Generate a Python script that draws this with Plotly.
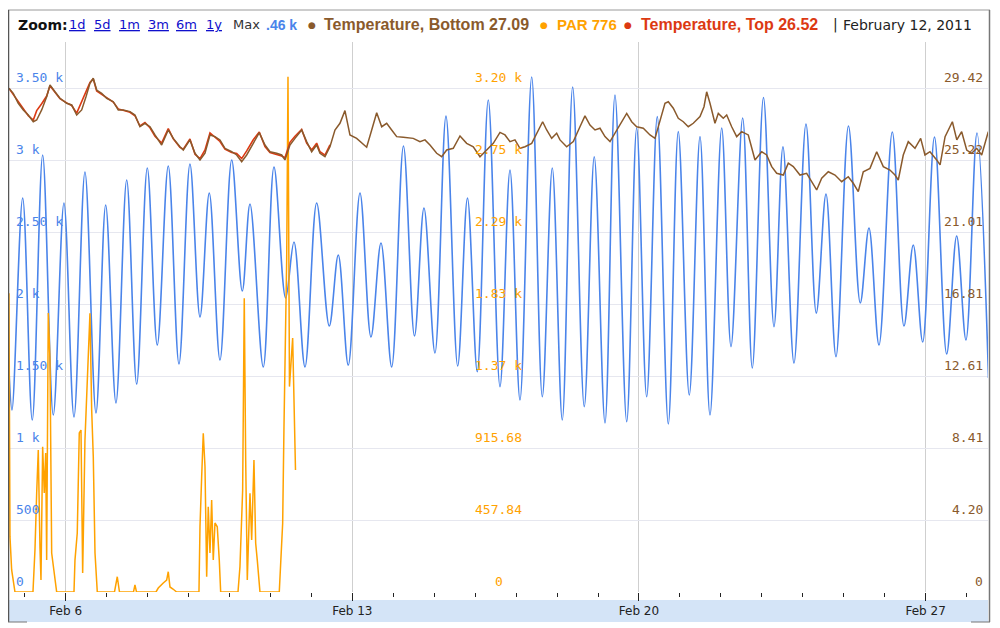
import pandas as pd
import plotly.graph_objects as go

# ---------------- data (time in days relative to 2011-02-06 00:00) ----------------
BASE = pd.Timestamp("2011-02-06")

blue_days = [-1.385, -1.311, -1.050, -0.816, -0.562, -0.303, -0.042, 0.203, 0.471, 0.740,
             0.977, 1.228, 1.490, 1.734, 1.993, 2.237, 2.505, 2.767, 3.035, 3.280,
             3.507, 3.768, 4.054, 4.313, 4.501, 4.825, 5.087, 5.372, 5.575, 5.844,
             6.129, 6.437, 6.657, 6.901, 7.187, 7.455, 7.700, 7.961, 8.249, 8.518,
             8.750, 9.018, 9.287, 9.573, 9.812, 10.051, 10.320, 10.606, 10.850, 11.094,
             11.380, 11.639, 11.883, 12.127, 12.381, 12.664, 12.908, 13.170, 13.414, 13.700,
             13.944, 14.188, 14.447, 14.716, 14.960, 15.228, 15.490, 15.734, 16.020, 16.247,
             16.532, 16.767, 17.040, 17.297, 17.516, 17.785, 18.078, 18.330, 18.567, 18.811,
             19.116, 19.404, 19.616, 19.861, 20.186, 20.471, 20.698, 20.928, 21.216, 21.514,
             21.758, 21.985, 22.254, 22.535]
blue_vals = [1542, 1264, 2736, 1194, 3035, 1229, 2701, 1215, 2917, 1243,
             2688, 1313, 2861, 1444, 2944, 1715, 2958, 1583, 2972, 1910,
             2771, 1611, 3000, 2090, 2694, 1563, 2951, 2042, 2431, 1563,
             2701, 1847, 2340, 1576, 2771, 1771, 2424, 1563, 3097, 1778,
             2667, 1660, 3305, 1569, 2736, 1530, 3417, 1426, 2931, 1333,
             3576, 1356, 2944, 1194, 3507, 1287, 3023, 1174, 3451, 1183,
             3222, 1356, 3301, 1167, 3197, 1368, 3162, 1229, 3222, 1704,
             3292, 1556, 3434, 1842, 3092, 1590, 3250, 1937, 2764, 1634,
             3236, 2007, 2528, 1715, 3194, 1847, 2410, 1736, 3160, 1653,
             2472, 1750, 3187, 1486]

bot_days = [-1.385, -1.280, -1.158, -1.035, -0.913, -0.791, -0.708, -0.586, -0.464, -0.383,
            -0.261, -0.139, 0.024, 0.147, 0.269, 0.391, 0.496, 0.593, 0.674, 0.757,
            0.879, 1.001, 1.162, 1.284, 1.407, 1.570, 1.692, 1.814, 1.936, 2.059,
            2.181, 2.344, 2.505, 2.628, 2.791, 2.872, 3.035, 3.158, 3.280, 3.402,
            3.524, 3.646, 3.768, 3.890, 4.054, 4.176, 4.298, 4.420, 4.581, 4.728,
            4.867, 4.989, 5.153, 5.275, 5.355, 5.477, 5.600, 5.763, 5.885, 6.007,
            6.129, 6.210, 6.332, 6.454,
            6.576, 6.698, 6.820, 6.942, 7.106, 7.228, 7.350, 7.473, 7.595, 7.717,
            7.839, 7.961, 8.083, 8.244, 8.488, 8.652, 8.774, 8.896, 9.060, 9.182,
            9.304, 9.465, 9.629, 9.792, 9.954, 10.117, 10.281, 10.442, 10.606, 10.728,
            10.850, 10.972, 11.094, 11.216, 11.380, 11.502, 11.648, 11.746, 11.868, 11.990,
            12.071, 12.234, 12.396, 12.559, 12.681, 12.803, 12.926, 13.048, 13.170, 13.292,
            13.414, 13.578, 13.700, 13.822, 13.944, 14.105, 14.269, 14.391, 14.513, 14.635,
            14.716, 14.838, 14.960, 15.082, 15.204, 15.326, 15.490, 15.588, 15.653, 15.734,
            15.856, 15.937, 16.059, 16.142, 16.264, 16.386, 16.508, 16.669, 16.833, 16.996,
            17.118, 17.241, 17.363, 17.524, 17.646, 17.768, 17.932, 18.095, 18.217, 18.339,
            18.462, 18.623, 18.787, 18.950, 19.111, 19.233, 19.355, 19.477, 19.641, 19.805,
            19.966, 20.129, 20.252, 20.332, 20.454, 20.576, 20.740, 20.879, 20.984, 21.106,
            21.270, 21.353, 21.475, 21.653, 21.761, 21.880, 22.003, 22.125, 22.247, 22.369,
            22.450, 22.530]
bot_vals = [29.40, 29.11, 28.53, 28.14, 27.84, 27.45, 27.55, 28.14, 28.91, 29.60,
            29.20, 28.82, 28.53, 28.43, 27.84, 28.14, 28.91, 29.69, 29.99, 29.30,
            29.11, 28.82, 28.62, 28.14, 28.14, 28.04, 27.84, 27.16, 27.36, 27.16,
            26.68, 26.09, 26.97, 26.48, 25.99, 25.80, 26.39, 25.61, 25.22, 25.61,
            26.68, 26.58, 26.39, 25.90, 25.70, 25.51, 25.12, 25.51, 26.19, 26.81,
            26.09, 25.70, 25.61, 25.51, 25.22, 26.09, 26.48, 26.97, 26.29, 25.70,
            26.09, 25.61, 25.41, 25.99,
            26.97, 27.36, 28.10, 26.68, 26.48, 26.19, 25.96, 26.97, 27.98, 27.16,
            27.36, 26.97, 26.58, 26.54, 26.48, 26.29, 26.39, 26.09, 25.61, 25.41,
            25.80, 25.90, 26.62, 26.19, 25.99, 25.41, 25.80, 26.19, 26.83, 26.68,
            26.29, 26.39, 25.90, 25.99, 26.19, 26.78, 27.45, 26.97, 26.48, 26.78,
            26.39, 25.99, 26.29, 27.16, 27.79, 27.26, 26.97, 27.07, 26.58, 26.29,
            26.78, 27.45, 27.94, 27.45, 27.16, 27.07, 26.68, 26.48, 27.45, 28.53,
            28.62, 28.24, 27.65, 27.45, 27.16, 27.36, 27.75, 28.33, 29.20, 28.53,
            27.36, 27.94, 27.65, 27.84, 27.16, 26.58, 26.87, 26.68, 25.22, 25.70,
            25.51, 24.83, 24.44, 24.34, 25.03, 24.83, 24.34, 24.44, 23.95, 23.47,
            24.15, 24.53, 24.34, 23.95, 24.24, 23.86, 23.37, 24.53, 24.73, 25.70,
            24.83, 24.63, 24.34, 24.05, 25.51, 26.29, 25.90, 26.48, 25.51, 25.70,
            25.22, 24.93, 26.58, 27.45, 26.39, 26.87, 25.80, 25.61, 25.90, 25.51,
            26.19, 26.87]

# Temperature, Top: logged at the same times as the first 64 bottom readings
top_vals = [29.40, 29.05, 28.60, 28.20, 27.80, 27.55, 28.10, 28.50, 28.95, 29.55,
            29.15, 28.80, 28.55, 28.40, 27.95, 28.60, 29.20, 29.75, 29.95, 29.25,
            29.05, 28.85, 28.60, 28.20, 28.10, 28.00, 27.80, 27.20, 27.40, 27.10,
            26.60, 26.20, 27.05, 26.45, 25.95, 25.85, 26.45, 25.55, 25.30, 25.80,
            26.80, 26.55, 26.30, 25.85, 25.65, 25.60, 25.30, 25.75, 26.40, 26.85,
            26.00, 25.65, 25.55, 25.45, 25.35, 26.25, 26.60, 27.00, 26.20, 25.80,
            26.20, 25.70, 25.50, 26.10]
top_days = bot_days[:len(top_vals)]

par_days = [-1.385, -1.360, -1.319, -1.238, -0.799, -0.750, -0.708, -0.669, -0.628, -0.603,
            -0.562, -0.523, -0.488, -0.464, -0.425, -0.383, -0.342, -0.303, -0.220, 0.203,
            0.227, 0.283, 0.332, 0.374, 0.415, 0.471, 0.513, 0.552, 0.593, 0.635,
            0.674, 0.716, 0.772, 1.192, 1.260, 1.314, 1.656, 1.692, 1.729, 2.205,
            2.261, 2.383, 2.466, 2.505, 2.547, 2.620, 2.711, 3.255, 3.280, 3.321,
            3.360, 3.402, 3.443, 3.482, 3.524, 3.565, 3.604, 3.646, 3.702, 3.751,
            3.785, 4.208, 4.256, 4.322, 4.361, 4.396, 4.435, 4.501, 4.542, 4.598,
            4.640, 4.679, 4.745, 5.216, 5.250, 5.299, 5.331, 5.355, 5.397, 5.429,
            5.465, 5.543, 5.575, 5.612]
par_vals = [1899, 352, 140, 0, 0, 267, 630, 903, 288, 76,
            924, 630, 884, 203, 1774, 1475, 248, 159, 0, 0,
            203, 375, 1011, 1030, 121, 967, 1242, 1496, 1772, 1157,
            860, 248, 0, 0, 97, 0, 0, 45, 0, 0,
            25, 57, 76, 129, 32, 19, 0, 0, 415, 733,
            1009, 797, 97, 542, 248, 585, 203, 439, 415, 203,
            0, 0, 161, 649, 1868, 839, 76, 628, 331, 839,
            310, 203, 0, 0, 224, 437, 1051, 1582, 2111, 3277,
            1306, 1615, 1200, 776]

# axis ticks
x_tick_dates = ["2011-02-06", "2011-02-13", "2011-02-20", "2011-02-27"]
x_tick_text = ["Feb 6", "Feb 13", "Feb 20", "Feb 27"]
blue_ticks = [0, 500, 1000, 1500, 2000, 2500, 3000, 3500]
blue_tick_text = ["0", "500", "1 k", "1.50 k", "2 k", "2.50 k", "3 k", "3.50 k"]
par_ticks = [0, 457.84, 915.68, 1373.52, 1831.36, 2289.20, 2747.04, 3204.88]
par_tick_text = ["0", "457.84", "915.68", "1.37 k", "1.83 k", "2.29 k", "2.75 k", "3.20 k"]
temp_ticks = [0, 4.2029, 8.4057, 12.6086, 16.8114, 21.0143, 25.2171, 29.42]
temp_tick_text = ["0", "4.20", "8.41", "12.61", "16.81", "21.01", "25.22", "29.42"]
view_start_day, view_end_day = -1.384, 22.523

# header texts
zoom_links = ["1d", "5d", "1m", "3m", "6m", "1y"]
legend_date = "February 12, 2011"

# ---------------- styling ----------------
BLUE = "#4a84ea"
BROWN = "#8a5a2c"
ORANGE = "#ffa200"
RED = "#dc3912"
OFF = 8                      # page body margin of the browser
W, H = 1000 - OFF, 628 - OFF
L, R, T, B = 1, 12, 34, 36   # plot area = screen x 9..988, y 42..592
PW, PH = W - L - R, H - T - B


def dates(days):
    return [BASE + pd.Timedelta(days=d) for d in days]


def px(xs):      # screen x pixel -> paper
    return (xs - OFF - L) / PW


def py(ys):      # screen y pixel -> paper
    return (H - B - (ys - OFF)) / PH


fig = go.Figure()
fig.add_trace(go.Scatter(x=dates(top_days), y=top_vals, yaxis="y3", mode="lines",
                         line=dict(color=RED, width=1.6), hoverinfo="skip"))
fig.add_trace(go.Scatter(x=dates(bot_days), y=bot_vals, yaxis="y3", mode="lines",
                         line=dict(color=BROWN, width=1.5), hoverinfo="skip"))
fig.add_trace(go.Scatter(x=dates(blue_days), y=blue_vals, yaxis="y", mode="lines",
                         line=dict(color=BLUE, width=1.6, shape="spline", smoothing=1.0),
                         hoverinfo="skip"))
fig.add_trace(go.Scatter(x=dates(par_days), y=par_vals, yaxis="y2", mode="lines",
                         line=dict(color=ORANGE, width=1.5), hoverinfo="skip"))

mono = "DejaVu Sans Mono"
fig.update_layout(
    width=W, height=H, autosize=False,
    margin=dict(l=L, r=R, t=T, b=B, pad=0),
    paper_bgcolor="white", plot_bgcolor="white",
    showlegend=False,
    xaxis=dict(
        type="date",
        range=[BASE + pd.Timedelta(days=view_start_day), BASE + pd.Timedelta(days=view_end_day)],
        tickmode="array", tickvals=x_tick_dates, ticktext=x_tick_text,
        ticks="outside", ticklen=8, tickwidth=1, tickcolor="#222",
        showgrid=True, gridcolor="#cfcfcf", gridwidth=1,
        zeroline=False, showline=False,
        tickfont=dict(family="DejaVu Sans", size=12, color="#222"),
        minor=dict(dtick=86400000, tick0="2011-02-06", ticks="outside", ticklen=4,
                   tickwidth=1, tickcolor="#222", showgrid=False),
    ),
    yaxis=dict(
        range=[0, 3500 * 550 / 504], tickmode="array", tickvals=blue_ticks,
        showticklabels=False, ticks="",
        showgrid=True, gridcolor="#e6e7ef", gridwidth=1, zeroline=False, showline=False,
    ),
    yaxis2=dict(
        overlaying="y", range=[0, 3204.88 * 550 / 504], showgrid=False, zeroline=False,
        showticklabels=False, ticks="", showline=False,
    ),
    yaxis3=dict(
        overlaying="y", side="right", range=[0, 29.42 * 550 / 504],
        showticklabels=False, ticks="", showgrid=False, zeroline=False, showline=False,
    ),
)

ann = []
# value-axis labels, drawn on each axis' own scale, sitting just above their grid lines
def axis_labels(ref, vals, texts, xs, anchor, color):
    for v, t in zip(vals, texts):
        ann.append(dict(xref="paper", yref=ref, x=px(xs), y=v, xanchor=anchor, yanchor="middle",
                        yshift=11, text=t, showarrow=False,
                        font=dict(family=mono, size=13, color=color)))

axis_labels("y", blue_ticks, blue_tick_text, 14, "left", BLUE)
axis_labels("y2", par_ticks, par_tick_text, 498.5, "center", ORANGE)
axis_labels("y3", temp_ticks, temp_tick_text, 985, "right", BROWN)

hy = py(25)
def head(x, text, color, size=13, family="DejaVu Sans", anchor="left"):
    ann.append(dict(xref="paper", yref="paper", x=px(x), y=hy, xanchor=anchor, yanchor="middle",
                    text=text, showarrow=False, font=dict(family=family, size=size, color=color)))

head(16, "<b>Zoom:</b>", "#111", 14)
for xp, lk in zip([67, 92, 117, 146, 174, 204], zoom_links):
    head(xp, "<u>" + lk + "</u>", "#1010cc", 13)
head(231, "Max", "#333", 13)
head(264, "<b>.46 k</b>", BLUE, 14, "Liberation Sans")
head(312, "●", BROWN, 9, anchor="center")
head(322, "<b>Temperature, Bottom 27.09</b>", BROWN, 16, "Liberation Sans")
head(544, "●", ORANGE, 9, anchor="center")
head(555, "<b>PAR 776</b>", ORANGE, 15, "Liberation Sans")
head(628, "●", RED, 9, anchor="center")
head(639, "<b>Temperature, Top 26.52</b>", RED, 16, "Liberation Sans")
head(831, "|", "#222", 14)
head(841, legend_date, "#222", 14)
fig.update_layout(annotations=ann)

shapes = [
    # date strip under the plot
    dict(type="rect", xref="paper", yref="paper", x0=0, x1=1, y0=py(622), y1=py(600),
         fillcolor="#d4e4f7", line=dict(width=0), layer="below"),
    # frame
    dict(type="line", xref="paper", yref="paper", x0=px(8), x1=px(990), y0=py(10), y1=py(10),
         line=dict(color="#9a9a9a", width=1)),
    dict(type="line", xref="paper", yref="paper", x0=px(8.5), x1=px(8.5), y0=py(10), y1=py(622),
         line=dict(color="#555", width=1.5)),
    dict(type="line", xref="paper", yref="paper", x0=px(989.5), x1=px(989.5), y0=py(10), y1=py(622),
         line=dict(color="#777", width=1.5)),
    dict(type="line", xref="paper", yref="paper", x0=px(8), x1=px(27), y0=py(622), y1=py(622),
         line=dict(color="#777", width=1)),
    dict(type="line", xref="paper", yref="paper", x0=px(971), x1=px(990), y0=py(622), y1=py(622),
         line=dict(color="#777", width=1)),
]
fig.update_layout(shapes=shapes)

fig.write_html("out.html")
